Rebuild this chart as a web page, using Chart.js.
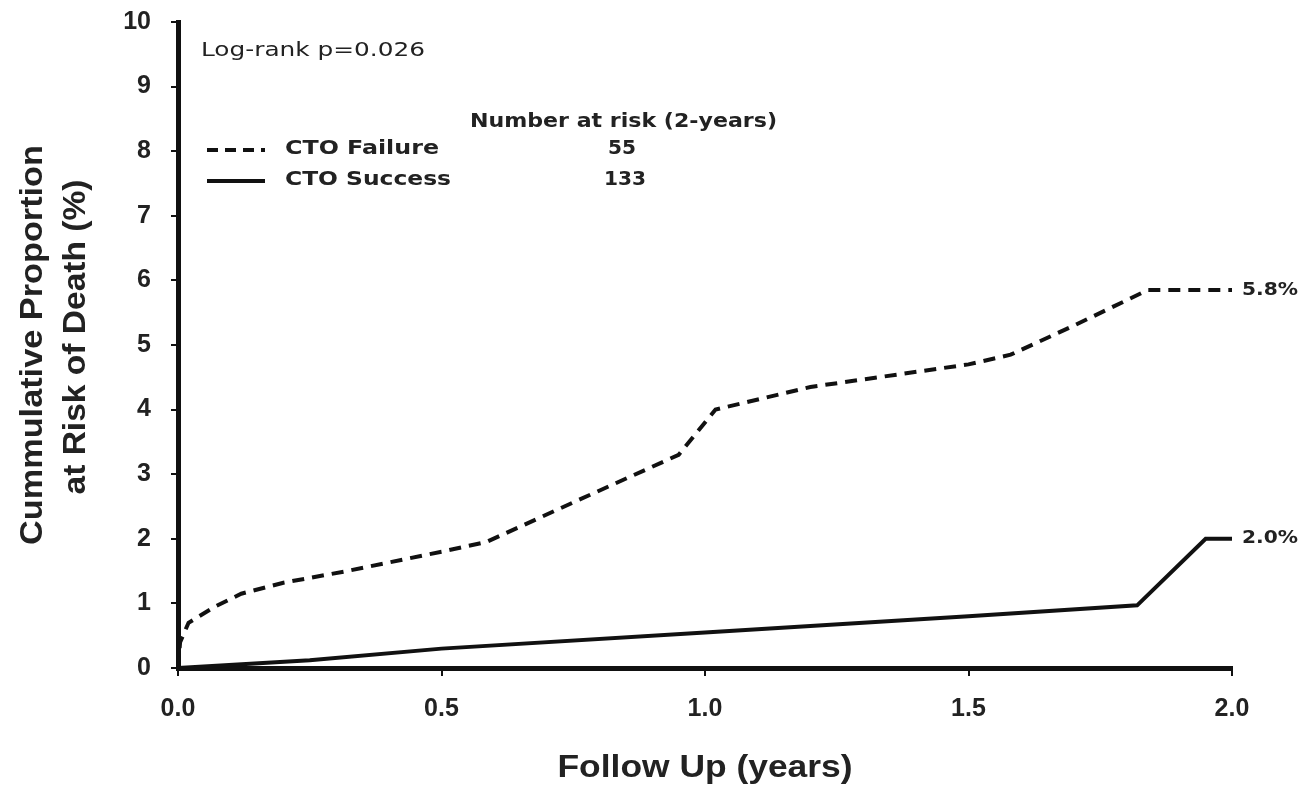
<!DOCTYPE html>
<html>
<head>
<meta charset="utf-8">
<script src="https://cdn.jsdelivr.net/npm/chart.js@4.4.1/dist/chart.umd.min.js"></script>
<style>
  html, body { margin: 0; padding: 0; background: #fff; }
  #wrap { width: 1307px; height: 795px; }
</style>
</head>
<body>
<div id="wrap"><canvas id="chart"></canvas></div>
<script>
// follow up time (years) and cumulative proportion (%)
const failureX = [0, 0.004, 0.02, 0.07, 0.12, 0.2, 0.32, 0.5, 0.585, 0.76, 0.95, 1.02, 1.2, 1.5, 1.58, 1.7, 1.84, 2.0];
const failureY = [0, 0.4, 0.7, 0.95, 1.15, 1.32, 1.5, 1.8, 1.95, 2.6, 3.3, 4.0, 4.35, 4.7, 4.85, 5.3, 5.85, 5.85];
const successX = [0, 0.25, 0.5, 1.0, 1.5, 1.82, 1.95, 2.0];
const successY = [0, 0.12, 0.3, 0.55, 0.8, 0.97, 2.0, 2.0];
const xTicks = [0, 0.5, 1.0, 1.5, 2.0];
const yTicks = [0, 1, 2, 3, 4, 5, 6, 7, 8, 9, 10];
const seriesNames = ["CTO Failure", "CTO Success"];
const atRisk = ["55", "133"];
const endLabels = ["5.8%", "2.0%"];

const font = "'Liberation Sans', Arial, sans-serif";
const wide = "'DejaVu Sans', sans-serif";

function pts(xs, ys) {
  return xs.map((x, i) => ({ x: x, y: ys[i] }));
}

// text squeezed/stretched to a given width, the old scan is wide
function fitText(c, txt, x, y, w, align) {
  const m = c.measureText(txt).width;
  const k = w / m;
  c.save();
  c.translate(x, y);
  c.scale(k, 1);
  c.textAlign = align || "left";
  c.fillText(txt, 0, 0);
  c.restore();
}

const annot = {
  id: "annot",
  afterDatasetsDraw(chart) {
    const c = chart.ctx;
    const xs = chart.scales.x, ys = chart.scales.y;
    c.save();
    c.fillStyle = "#222";
    c.textBaseline = "middle";
    c.font = "20px " + wide;
    fitText(c, "Log-rank p=0.026", 201, 51, 224);
    c.font = "bold 20px " + wide;
    fitText(c, "Number at risk (2-years)", 470, 122, 307);
    fitText(c, seriesNames[0], 285, 149, 154);
    fitText(c, seriesNames[1], 285, 180, 166);
    fitText(c, atRisk[0], 622, 149, 28, "center");
    fitText(c, atRisk[1], 625, 180, 42, "center");
    // legend samples
    c.strokeStyle = "#111";
    c.lineWidth = 4;
    c.setLineDash([11, 7]);
    c.beginPath(); c.moveTo(207, 150); c.lineTo(265, 150); c.stroke();
    c.setLineDash([]);
    c.beginPath(); c.moveTo(207, 181); c.lineTo(265, 181); c.stroke();
    // end labels
    c.font = "bold 17px " + wide;
    fitText(c, endLabels[0], xs.getPixelForValue(2.0) + 10, ys.getPixelForValue(failureY[failureY.length - 1]), 56);
    fitText(c, endLabels[1], xs.getPixelForValue(2.0) + 10, ys.getPixelForValue(successY[successY.length - 1]), 56);
    // axis titles
    c.font = "bold 32px " + font;
    fitText(c, "Follow Up (years)", 705, 768, 295, "center");
    c.save();
    c.translate(0, 345);
    c.rotate(-Math.PI / 2);
    fitText(c, "Cummulative Proportion", 0, 33, 400, "center");
    fitText(c, "at Risk of Death (%)", 8, 76, 315, "center");
    c.restore();
    c.restore();
  }
};

const ctx = document.getElementById("chart").getContext("2d");
const chart = new Chart(ctx, {
  type: "scatter",
  data: {
    datasets: [
      {
        label: seriesNames[0],
        data: pts(failureX, failureY),
        showLine: true,
        borderColor: "#111",
        borderWidth: 4,
        borderDash: [12, 8],
        pointRadius: 0,
        fill: false
      },
      {
        label: seriesNames[1],
        data: pts(successX, successY),
        showLine: true,
        borderColor: "#111",
        borderWidth: 4,
        pointRadius: 0,
        fill: false
      }
    ]
  },
  options: {
    responsive: true,
    maintainAspectRatio: false,
    animation: false,
    layout: { padding: { top: 22, right: 75, left: 10 } },
    plugins: { legend: { display: false }, tooltip: { enabled: false } },
    scales: {
      x: {
        type: "linear",
        min: 0,
        max: 2,
        afterBuildTicks: (s) => { s.ticks = xTicks.map(v => ({ value: v })); },
        afterFit: (s) => { s.height = 127; s.paddingLeft = 0; s.paddingRight = 0; },
        border: { color: "#111", width: 5 },
        grid: { drawOnChartArea: false, color: "#111", tickLength: 8, lineWidth: 2 },
        ticks: {
          color: "#222",
          font: { family: font, size: 25, weight: "bold" },
          padding: 18,
          callback: (v) => v.toFixed(1)
        }
      },
      y: {
        min: 0,
        max: 10,
        afterBuildTicks: (s) => { s.ticks = yTicks.map(v => ({ value: v })); },
        afterFit: (s) => { s.width = 168; s.paddingTop = 0; s.paddingBottom = 0; },
        border: { color: "#111", width: 5 },
        grid: { drawOnChartArea: false, color: "#111", tickLength: 7, lineWidth: 2 },
        ticks: {
          color: "#222",
          font: { family: font, size: 25, weight: "bold" },
          padding: 20
        }
      }
    }
  },
  plugins: [annot]
});
</script>
</body>
</html>
